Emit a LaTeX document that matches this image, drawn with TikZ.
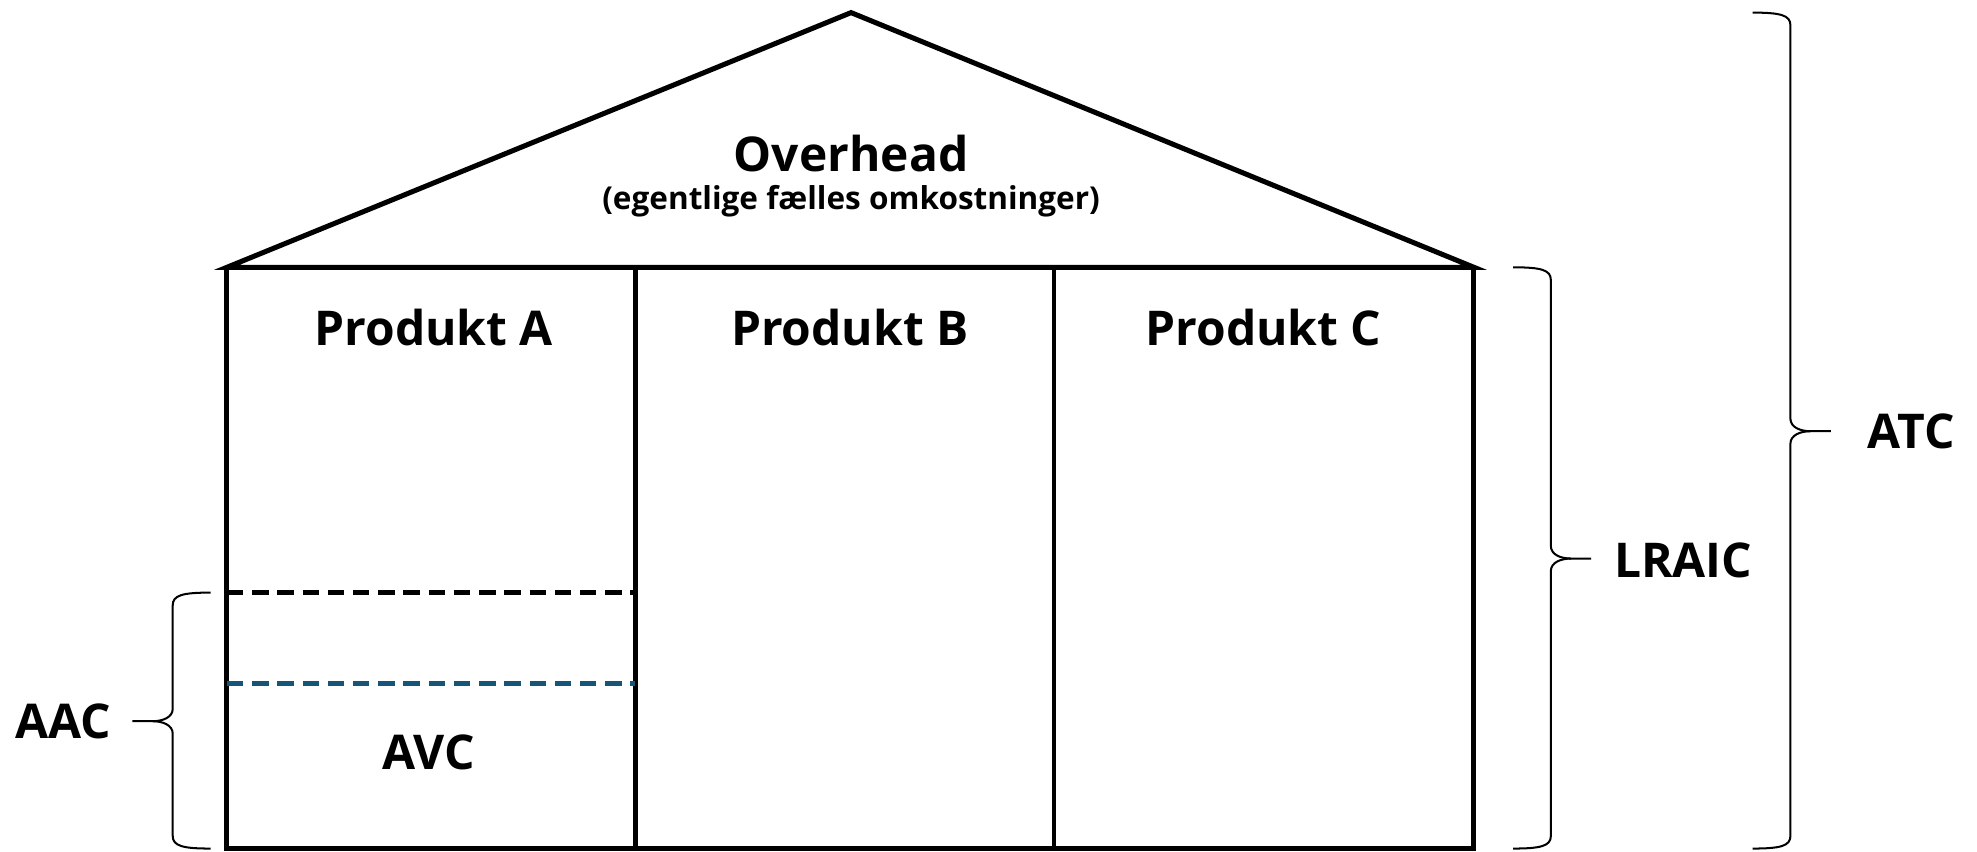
\documentclass[tikz,border=0pt]{standalone}
\usepackage{fontspec}
\setmainfont{Open Sans}
\usetikzlibrary{calc}
\definecolor{dashblue}{RGB}{20,85,120}
\tikzset{
  house/.style={line width=4pt, line join=miter},
  divider/.style={line width=3.5pt},
  dashline/.style={line width=3.4pt, dash pattern=on 13pt off 7pt},
  bracestyle/.style={line width=1.6pt},
  bigtxt/.style={font=\fontsize{38}{42}\selectfont\bfseries, anchor=base, inner sep=0pt},
  subtxt/.style={font=\fontsize{25}{29}\selectfont\bfseries, anchor=base, inner sep=0pt},
}
\begin{document}
\begin{tikzpicture}[x=1pt,y=-1pt]
\useasboundingbox (0,0) rectangle (1568,675);
% house
\coordinate (apex) at (675,10);
\coordinate (tl) at (180,212);
\coordinate (tr) at (1169,212);
\coordinate (bl) at (180,673);
\coordinate (br) at (1169,673);
\coordinate (d1t) at (504,212);
\coordinate (d1b) at (504,673);
\coordinate (d2t) at (836,212);
\coordinate (d2b) at (836,673);
\draw[house] (tl) -- (apex) -- (tr) -- cycle;
\draw[house] (tl) -- (bl) -- (br) -- (tr);
\draw[divider] (d1t) -- (d1b);
\draw[divider] (d2t) -- (d2b);
% dashed lines
\coordinate (aacL) at (180,470);
\coordinate (aacR) at (504,470);
\coordinate (avcL) at (180,542);
\coordinate (avcR) at (504,542);
\draw[dashline, black] (aacL) -- (aacR);
\draw[dashline, dashblue] (avcL) -- (avcR);
% texts
\node[bigtxt] (overhead) at (675,136) {Overhead};
\node[subtxt] (sub) at (675,166) {(egentlige fælles omkostninger)};
\node[bigtxt] (pa) at (344,274) {Produkt A};
\node[bigtxt] (pb) at (674,274) {Produkt B};
\node[bigtxt] (pc) at (1002,274) {Produkt C};
\node[bigtxt] (avc) at (340,610) {AVC};
\node[bigtxt] (aac) at (50,586) {AAC};
\node[bigtxt] (lraic) at (1335,458) {LRAIC};
\node[bigtxt] (atc) at (1516,356) {ATC};
% ATC brace
\coordinate (atcT) at (1390,10);
\coordinate (atcB) at (1390,673);
\coordinate (atcM) at (1452,342);
\draw[bracestyle] (atcT) .. controls +(22,0) and +(0,-8) .. ($(atcT)+(30,10)$)
  -- ($(atcM)+(-32,-10)$) .. controls +(0,7) and +(-8,0) .. ($(atcM)+(-16,0)$) -- (atcM);
\draw[bracestyle] ($(atcM)+(-16,0)$) .. controls +(-8,0) and +(0,-7) .. ($(atcM)+(-32,10)$)
  -- ($(atcB)+(30,-10)$) .. controls +(0,8) and +(22,0) .. (atcB);
% LRAIC brace
\coordinate (lrT) at (1200,212);
\coordinate (lrB) at (1200,673);
\coordinate (lrM) at (1262,443);
\draw[bracestyle] (lrT) .. controls +(22,0) and +(0,-8) .. ($(lrT)+(30,10)$)
  -- ($(lrM)+(-32,-10)$) .. controls +(0,7) and +(-8,0) .. ($(lrM)+(-16,0)$) -- (lrM);
\draw[bracestyle] ($(lrM)+(-16,0)$) .. controls +(-8,0) and +(0,-7) .. ($(lrM)+(-32,10)$)
  -- ($(lrB)+(30,-10)$) .. controls +(0,8) and +(22,0) .. (lrB);
% AAC brace (mirrored)
\coordinate (aaT) at (167,470);
\coordinate (aaB) at (167,673);
\coordinate (aaM) at (105,572);
\draw[bracestyle] (aaT) .. controls +(-22,0) and +(0,-8) .. ($(aaT)+(-30,10)$)
  -- ($(aaM)+(32,-10)$) .. controls +(0,7) and +(8,0) .. ($(aaM)+(16,0)$) -- (aaM);
\draw[bracestyle] ($(aaM)+(16,0)$) .. controls +(8,0) and +(0,-7) .. ($(aaM)+(32,10)$)
  -- ($(aaB)+(-30,-10)$) .. controls +(0,8) and +(-22,0) .. (aaB);
\end{tikzpicture}
\end{document}
